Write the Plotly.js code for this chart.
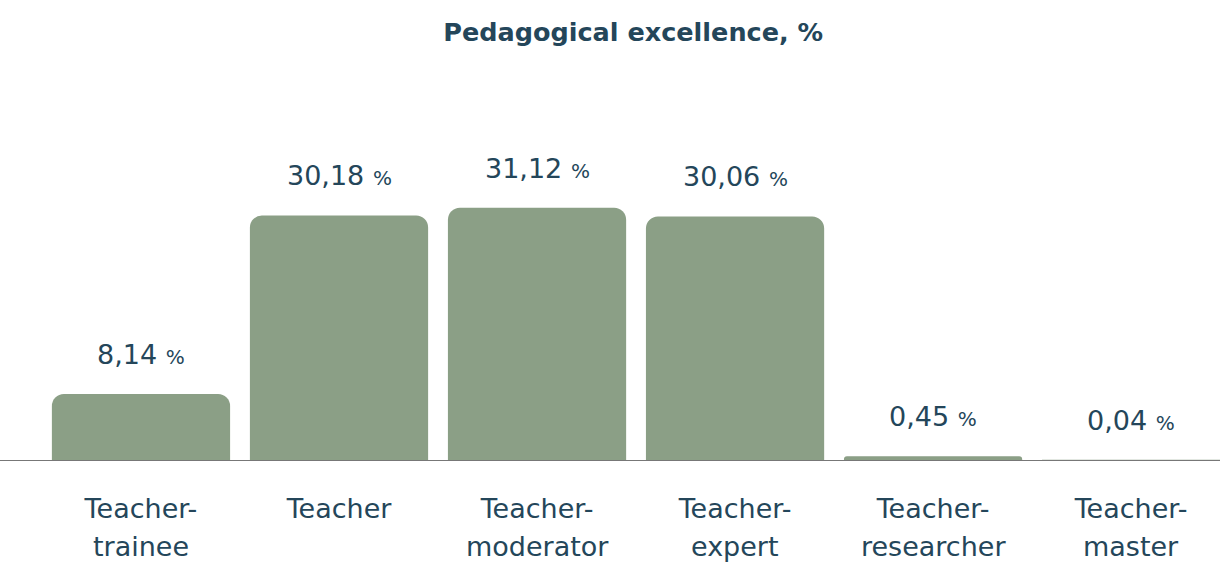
<!DOCTYPE html>
<html>
<head>
<meta charset="utf-8">
<script src="https://cdn.plot.ly/plotly-3.0.1.min.js"></script>
<style>html,body{margin:0;padding:0;background:#fff;}#chart{width:1220px;height:563px;}</style>
</head>
<body>
<div id="chart"></div>
<script>
const categories = ["Teacher-<br>trainee", "Teacher", "Teacher-<br>moderator", "Teacher-<br>expert", "Teacher-<br>researcher", "Teacher-<br>master"];
const values = [8.14, 30.18, 31.12, 30.06, 0.45, 0.04];
const valueLabels = ["8,14", "30,18", "31,12", "30,06", "0,45", "0,04"];

const textColor = "#24465a";
const fontFam = "'DejaVu Sans', 'Open Sans', sans-serif";
const xIdx = categories.map((c, i) => i);
const line1 = categories.map(c => c.split("<br>")[0]);
const line2 = categories.map(c => c.split("<br>")[1] || "");

const trace = {
  type: "bar",
  x: xIdx,
  y: values,
  width: 0.9,
  marker: { color: "#8b9f86", cornerradius: 12, line: { width: 0 } },
  hoverinfo: "skip"
};

const valueAnn = values.map((v, i) => ({
  x: i, y: v, xref: "x", yref: "y",
  yanchor: "bottom", xanchor: "center",
  yshift: 22,
  showarrow: false,
  text: valueLabels[i] + " <span style='font-size:20px'>%</span>",
  font: { family: fontFam, size: 27, color: textColor }
}));

const line2Ann = line2.map((t, i) => ({
  x: i, y: 0, xref: "x", yref: "y",
  yanchor: "middle", xanchor: "center",
  yshift: -86,
  showarrow: false,
  borderpad: 0,
  text: t,
  font: { family: fontFam, size: 27, color: textColor }
}));

const layout = {
  width: 1220, height: 563,
  margin: { l: 0, r: 0, t: 80, b: 103 },
  paper_bgcolor: "#fff", plot_bgcolor: "#fff",
  showlegend: false,
  title: {
    text: "<b>Pedagogical excellence, %</b>",
    x: 0.519, xanchor: "center", xref: "paper",
    y: 0.943, yanchor: "middle", yref: "container",
    font: { family: fontFam, size: 25.5, color: textColor }
  },
  xaxis: {
    range: [-0.712, 5.449],
    tickmode: "array", tickvals: xIdx, ticktext: line1,
    showgrid: false, zeroline: false,
    showline: true, linecolor: "#777", linewidth: 1,
    ticks: "", ticklabelstandoff: 25,
    tickfont: { family: fontFam, size: 27, color: textColor },
    fixedrange: true
  },
  yaxis: {
    range: [0, 46.9],
    visible: false, showgrid: false, zeroline: false,
    fixedrange: true
  },
  annotations: valueAnn.concat(line2Ann)
};

Plotly.newPlot("chart", [trace], layout, { displayModeBar: false, staticPlot: true });
</script>
</body>
</html>
